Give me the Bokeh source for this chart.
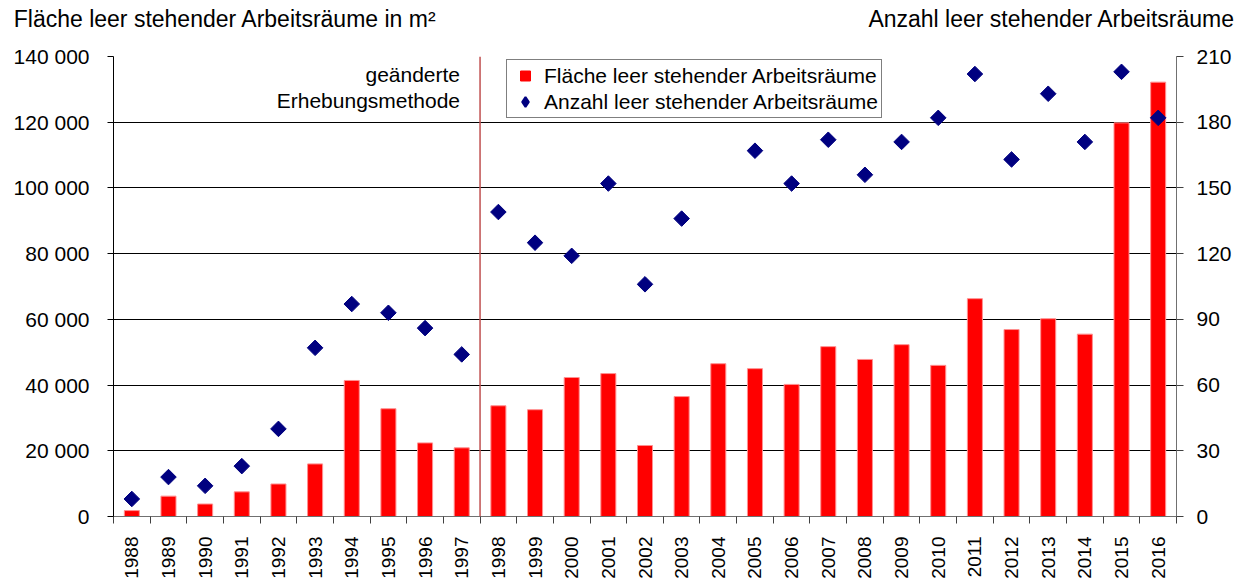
import math
from bokeh.plotting import figure
from bokeh.models import (Range1d, LinearAxis, FixedTicker, Span, Label,
                          Legend, LegendItem)
from bokeh.embed import file_html
from bokeh.resources import INLINE

# ---- data ----
years = list(range(1988, 2017))
area = [1800, 6200, 3800, 7500, 9900, 16000, 41400, 32800, 22400, 20900,
        33700, 32500, 42300, 43500, 21600, 36500, 46500, 45000, 40200, 51700,
        47800, 52300, 46000, 66300, 56900, 60200, 55500, 119800, 132200]
count = [8, 18, 14, 23, 40, 77, 97, 93, 86, 74,
         139, 125, 119, 152, 106, 136, 195, 167, 152, 172,
         156, 171, 182, 202, 163, 193, 171, 203, 182]
area_ticks = [0, 20000, 40000, 60000, 80000, 100000, 120000, 140000]
count_ticks = [0, 30, 60, 90, 120, 150, 180, 210]
method_change = 1997.5

title_left = "Fläche leer stehender Arbeitsräume in m²"
title_right = "Anzahl leer stehender Arbeitsräume"
label_area = "Fläche leer stehender Arbeitsräume"
label_count = "Anzahl leer stehender Arbeitsräume"
note_lines = ["geänderte", "Erhebungsmethode"]

FONT = "Liberation Sans"
RED = "#FF0000"
NAVY = "#000080"

p = figure(frame_width=1063, frame_height=460,
           x_range=Range1d(years[0] - 0.5, years[-1] + 0.5),
           y_range=Range1d(area_ticks[0], area_ticks[-1]),
           output_backend="svg", toolbar_location=None,
           min_border_left=113, min_border_right=61,
           min_border_top=56, min_border_bottom=0)
p.extra_y_ranges = {"count": Range1d(count_ticks[0], count_ticks[-1])}
p.outline_line_color = None
p.background_fill_color = "white"
p.border_fill_color = "white"

bars = p.vbar(x=years, top=area, width=0.41, fill_color=RED,
              line_color="#FF9090", line_width=1)
pts = p.scatter(x=years, y=count, y_range_name="count", marker="square",
                angle=math.pi / 4, size=11, fill_color=NAVY,
                line_color=NAVY)

# hidden renderers that only provide the legend symbols
leg_area = p.scatter(x=years, y=area, marker="square", size=10, fill_color=RED,
                     line_color=RED, line_width=1, visible=False)
leg_count = p.scatter(x=years, y=count, y_range_name="count", marker="diamond",
                      size=10, fill_color=NAVY, line_color=NAVY,
                      line_width=2, visible=False)

# x axis
xa = p.xaxis[0]
xa.ticker = FixedTicker(ticks=years,
                        minor_ticks=[y - 0.5 for y in years] + [years[-1] + 0.5])
xa.major_label_overrides = {y: str(y) for y in years}
xa.major_label_orientation = math.pi / 2
xa.major_tick_in = 0
xa.major_tick_out = 0
xa.minor_tick_in = 0
xa.minor_tick_out = 7
xa.minor_tick_line_color = "#404040"
xa.axis_line_color = "#707070"
xa.major_label_standoff = 13
xa.major_label_text_font = FONT
xa.major_label_text_font_size = "19px"
xa.major_label_text_color = "black"

# left axis
ya = p.yaxis[0]
ya.ticker = FixedTicker(ticks=area_ticks)
ya.major_label_overrides = {t: f"{t:,}".replace(",", " ") for t in area_ticks}
ya.minor_tick_line_color = None
ya.major_tick_in = 0
ya.major_tick_out = 6
ya.axis_line_color = "black"
ya.major_tick_line_color = "black"
ya.major_label_standoff = 18
ya.major_label_text_font = FONT
ya.major_label_text_font_size = "21px"
ya.major_label_text_color = "black"

# right axis
ra = LinearAxis(y_range_name="count", ticker=FixedTicker(ticks=count_ticks))
ra.minor_tick_line_color = None
ra.major_tick_in = 0
ra.major_tick_out = 7
ra.axis_line_color = "#707070"
ra.major_tick_line_color = "#404040"
ra.major_label_standoff = 13
ra.major_label_text_font = FONT
ra.major_label_text_font_size = "21px"
ra.major_label_text_color = "black"
p.add_layout(ra, "right")

# axis titles placed in the top margin (as labels of a bare axis above)
title_pos = [1990.55, 2013.10]
ta = LinearAxis(ticker=FixedTicker(ticks=title_pos))
ta.major_label_overrides = {title_pos[0]: title_left, title_pos[1]: title_right}
ta.axis_line_color = None
ta.major_tick_line_color = None
ta.minor_tick_line_color = None
ta.major_label_standoff = 19
ta.major_label_text_font = FONT
ta.major_label_text_font_size = "23px"
ta.major_label_text_color = "black"
p.add_layout(ta, "above")

p.xgrid.visible = False
p.ygrid.grid_line_color = "black"
p.ygrid.grid_line_width = 1

p.add_layout(Span(location=method_change, dimension="height",
                  line_color="#C05050", line_width=1.5))

# annotation next to the method-change line
for i, line in enumerate(note_lines):
    p.add_layout(Label(x=method_change, y=area_ticks[-1], x_offset=-20,
                       y_offset=-18 - 26 * i, text=line, text_font=FONT,
                       text_font_size="21px", text_align="right",
                       text_baseline="middle", text_color="black"))

legend = Legend(items=[LegendItem(label=label_area, renderers=[leg_area]),
                       LegendItem(label=label_count, renderers=[leg_count])],
                location=(393, 398))
legend.border_line_color = "black"
legend.border_line_width = 1
legend.background_fill_color = "white"
legend.background_fill_alpha = 1
legend.inactive_fill_alpha = 0
legend.label_text_font = FONT
legend.label_text_font_size = "21px"
legend.label_text_color = "black"
legend.glyph_width = 30
legend.glyph_height = 25
legend.label_standoff = 4
legend.label_height = 24
legend.spacing = 1
legend.padding = 3
legend.margin = 0
p.add_layout(legend)

open("out.html", "w").write(file_html(p, INLINE))
